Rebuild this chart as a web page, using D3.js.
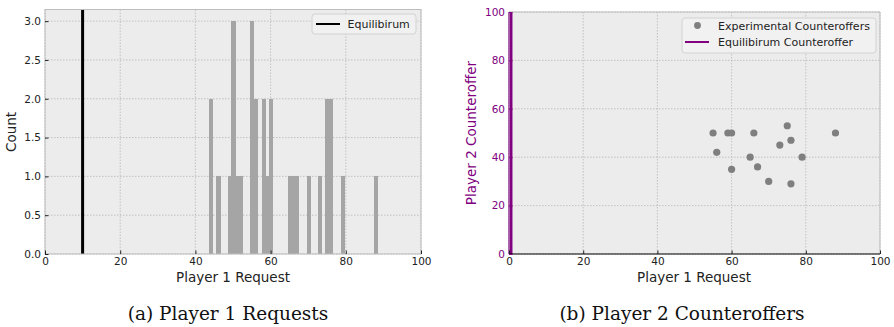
<!DOCTYPE html>
<html><head><meta charset="utf-8">
<script src="https://cdn.jsdelivr.net/npm/d3@7"></script>
<style>body{margin:0;background:#fff} svg{display:block}</style>
</head><body><svg id="c" width="894" height="327"></svg>
<script>
// ---- data ----
const requestBins = [44,46,49,50,51,52,55,56,58,59,60,65,66,67,70,73,75,76,79,88];
const requestCounts = [2,1,1,3,1,1,3,2,2,1,2,1,1,1,1,1,2,2,1,1];
const equilibriumRequest = 10;
const offerX = [55,59,60,66,75,88,56,76,73,65,79,60,67,70,76];
const offerY = [50,50,50,50,53,50,42,47,45,40,40,35,36,30,29];
const equilibriumCounteroffer = 0.6;
const xTicks = [0,20,40,60,80,100];
const countTicks = [0,0.5,1,1.5,2,2.5,3];
const offerTicks = [0,20,40,60,80,100];
const binStart = -0.4, binWidth = 1;

const svg = d3.select("#c");
const FONT = "DejaVu Sans, sans-serif";
const BG = "#ececec", GRID = "#b8b8b8", SPINE = "#bdbdbd", PURPLE = "#800080";

function panel(x0, x1, y0, y1, xDomain, yDomain) {
  const g = svg.append("g");
  const x = d3.scaleLinear().domain(xDomain).range([x0, x1]);
  const y = d3.scaleLinear().domain(yDomain).range([y1, y0]);
  g.append("rect").attr("x", x0).attr("y", y0).attr("width", x1 - x0).attr("height", y1 - y0).attr("fill", BG);
  return {g, x, y, x0, x1, y0, y1};
}

function grid(p, xt, yt) {
  const gg = p.g.append("g").attr("stroke", GRID).attr("stroke-width", 0.8).attr("stroke-dasharray", "1.5,1.5");
  xt.forEach(t => gg.append("line").attr("x1", p.x(t)).attr("x2", p.x(t)).attr("y1", p.y0).attr("y2", p.y1));
  yt.forEach(t => gg.append("line").attr("y1", p.y(t)).attr("y2", p.y(t)).attr("x1", p.x0).attr("x2", p.x1));
}

function axes(p, xt, yt, yFmt, yColor) {
  const ax = p.g.append("g").attr("transform", `translate(0,${p.y1})`)
    .call(d3.axisBottom(p.x).tickValues(xt).tickSize(-3.5).tickPadding(4).tickFormat(d3.format("d")));
  ax.select(".domain").remove();
  ax.selectAll("line").attr("stroke", "#222");
  ax.selectAll("text").attr("font-family", FONT).attr("font-size", 10.5).attr("fill", "#222");
  const ay = p.g.append("g").attr("transform", `translate(${p.x0},0)`)
    .call(d3.axisLeft(p.y).tickValues(yt).tickSize(-3.5).tickPadding(4).tickFormat(yFmt));
  ay.select(".domain").remove();
  ay.selectAll("line").attr("stroke", yColor);
  ay.selectAll("text").attr("font-family", FONT).attr("font-size", 10.5).attr("fill", yColor);
}

// ---- panel (a) ----
const A = panel(45, 421, 9.5, 254, [0, 100], [0, 3.15]);
grid(A, xTicks, countTicks);
A.g.append("g").attr("shape-rendering", "crispEdges").selectAll("rect").data(requestBins).join("rect")
  .attr("x", (d) => A.x(d + binStart))
  .attr("width", (d) => A.x(d + binStart + binWidth) - A.x(d + binStart) + 0.3)
  .attr("y", (d, i) => A.y(requestCounts[i]))
  .attr("height", (d, i) => A.y(0) - A.y(requestCounts[i]))
  .attr("fill", "#a5a5a5");
A.g.append("line").attr("x1", A.x(equilibriumRequest)).attr("x2", A.x(equilibriumRequest))
  .attr("y1", A.y0).attr("y2", A.y1).attr("stroke", "#000").attr("stroke-width", 3);
A.g.append("rect").attr("x", A.x0).attr("y", A.y0).attr("width", A.x1 - A.x0).attr("height", A.y1 - A.y0)
  .attr("fill", "none").attr("stroke", SPINE).attr("stroke-width", 1);
axes(A, xTicks, countTicks, d3.format(".1f"), "#222");
// legend (a)
const la = A.g.append("g");
la.append("rect").attr("x", 312).attr("y", 14).attr("width", 104).attr("height", 20).attr("rx", 3)
  .attr("fill", "#f2f2f2").attr("fill-opacity", 0.8).attr("stroke", "#d2d2d2");
la.append("line").attr("x1", 316).attr("x2", 340).attr("y1", 24).attr("y2", 24).attr("stroke", "#000").attr("stroke-width", 2);
la.append("text").attr("x", 347.5).attr("y", 28).attr("font-family", FONT).attr("font-size", 11).attr("fill", "#222").text("Equilibirum");
// labels (a)
svg.append("text").attr("x", 233).attr("y", 282).attr("text-anchor", "middle").attr("font-family", FONT).attr("font-size", 13.5).attr("fill", "#222").text("Player 1 Request");
svg.append("text").attr("transform", "translate(16,132) rotate(-90)").attr("text-anchor", "middle").attr("font-family", FONT).attr("font-size", 13.5).attr("fill", "#222").text("Count");
svg.append("text").attr("x", 228).attr("y", 320).attr("text-anchor", "middle").attr("font-family", "DejaVu Serif, serif").attr("font-size", 18.5).attr("fill", "#111").text("(a) Player 1 Requests");

// ---- panel (b) ----
const B = panel(509, 880, 12, 254, [0, 100], [0, 100]);
grid(B, xTicks, offerTicks);
B.g.append("g").selectAll("circle").data(offerX).join("circle")
  .attr("cx", (d) => B.x(d)).attr("cy", (d, i) => B.y(offerY[i])).attr("r", 3.6).attr("fill", "#7f7f7f");
B.g.append("line").attr("x1", B.x(equilibriumCounteroffer)).attr("x2", B.x(equilibriumCounteroffer))
  .attr("y1", B.y0).attr("y2", B.y1).attr("stroke", PURPLE).attr("stroke-width", 2.5);
B.g.append("path").attr("d", `M${B.x0},${B.y0}H${B.x1}V${B.y1}`).attr("fill", "none").attr("stroke", SPINE);
B.g.append("line").attr("x1", B.x0).attr("x2", B.x1).attr("y1", B.y1).attr("y2", B.y1).attr("stroke", "#000");
B.g.append("line").attr("x1", B.x0).attr("x2", B.x0).attr("y1", B.y0).attr("y2", B.y1).attr("stroke", PURPLE).attr("stroke-width", 1.2);
axes(B, xTicks, offerTicks, d3.format("d"), PURPLE);
// legend (b)
const lb = B.g.append("g");
lb.append("rect").attr("x", 682).attr("y", 18).attr("width", 194).attr("height", 35).attr("rx", 3)
  .attr("fill", "#f2f2f2").attr("fill-opacity", 0.8).attr("stroke", "#d2d2d2");
lb.append("circle").attr("cx", 697.5).attr("cy", 25.5).attr("r", 3.4).attr("fill", "#7f7f7f");
lb.append("text").attr("x", 718).attr("y", 29.5).attr("font-family", FONT).attr("font-size", 11).attr("fill", "#222").text("Experimental Counteroffers");
lb.append("line").attr("x1", 685).attr("x2", 709).attr("y1", 42).attr("y2", 42).attr("stroke", PURPLE).attr("stroke-width", 2);
lb.append("text").attr("x", 718).attr("y", 46).attr("font-family", FONT).attr("font-size", 11).attr("fill", "#222").text("Equilibirum Counteroffer");
// labels (b)
svg.append("text").attr("x", 694).attr("y", 282).attr("text-anchor", "middle").attr("font-family", FONT).attr("font-size", 13.5).attr("fill", "#222").text("Player 1 Request");
svg.append("text").attr("transform", "translate(476,133) rotate(-90)").attr("text-anchor", "middle").attr("font-family", FONT).attr("font-size", 13.5).attr("fill", PURPLE).text("Player 2 Counteroffer");
svg.append("text").attr("x", 682).attr("y", 320).attr("text-anchor", "middle").attr("font-family", "DejaVu Serif, serif").attr("font-size", 18.5).attr("fill", "#111").text("(b) Player 2 Counteroffers");
</script></body></html>
